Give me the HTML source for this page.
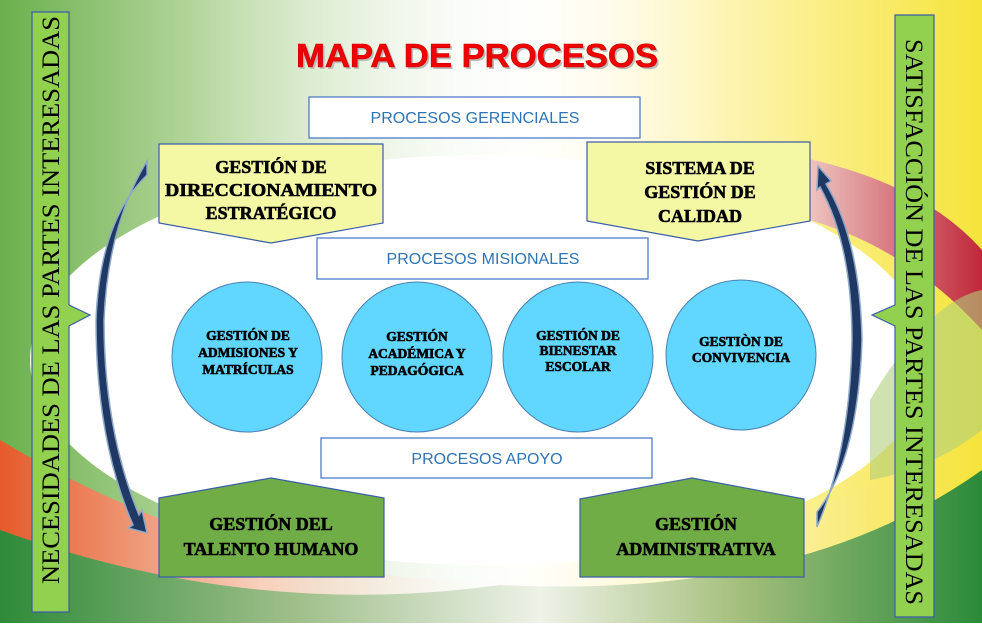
<!DOCTYPE html>
<html><head><meta charset="utf-8"><style>
html,body{margin:0;padding:0}
body{width:982px;height:623px;overflow:hidden;background:#fff}
svg text{font-family:"Liberation Serif",serif}
.b{font-weight:bold;fill:#000;stroke:#000;stroke-width:0.6}
.blue{font-family:"Liberation Sans",sans-serif!important;fill:#2e74b5;font-size:16px}
</style></head><body>
<svg width="982" height="623" viewBox="0 0 982 623" xmlns="http://www.w3.org/2000/svg">
<defs>
<linearGradient id="gl" x1="0" y1="0" x2="1" y2="0">
<stop offset="0" stop-color="#6ab04c"/><stop offset="0.35" stop-color="#b4d69c"/><stop offset="1" stop-color="#fff" stop-opacity="0"/></linearGradient>
<linearGradient id="gr" x1="0" y1="0" x2="1" y2="0">
<stop offset="0" stop-color="#fff" stop-opacity="0"/><stop offset="0.5" stop-color="#fdf4b0"/><stop offset="1" stop-color="#f5e43a"/></linearGradient>
<linearGradient id="gb" x1="0" y1="0" x2="1" y2="0">
<stop offset="0" stop-color="#2e8b3a"/><stop offset="0.3" stop-color="#9fbf8a"/><stop offset="0.55" stop-color="#eef2e8"/><stop offset="0.75" stop-color="#a6c07d"/><stop offset="1" stop-color="#2a8a3a"/></linearGradient>
<linearGradient id="red" x1="0" y1="0" x2="1" y2="0">
<stop offset="0" stop-color="#f2d6cf"/><stop offset="1" stop-color="#c0283a"/></linearGradient>
<linearGradient id="orng" x1="0" y1="0" x2="1" y2="0">
<stop offset="0" stop-color="#e55a2b"/><stop offset="0.5" stop-color="#f8d0bc"/><stop offset="1" stop-color="#fff" stop-opacity="0"/></linearGradient>
<linearGradient id="yel" x1="0" y1="0" x2="1" y2="0">
<stop offset="0" stop-color="#fff" stop-opacity="0"/><stop offset="0.6" stop-color="#fbf0a0"/><stop offset="1" stop-color="#f5e43a"/></linearGradient>
</defs>
<rect width="982" height="623" fill="#fff"/>
<rect x="0" y="0" width="560" height="623" fill="url(#gl)"/>
<rect x="480" y="0" width="502" height="623" fill="url(#gr)"/>
<path d="M0 440 Q250 590 520 580 L520 623 L0 623Z" fill="url(#orng)"/>
<path d="M480 570 Q780 560 982 420 L982 623 L480 623Z" fill="url(#yel)"/>
<path d="M0 530 Q250 620 500 585 Q800 600 982 470 L982 623 L0 623Z" fill="url(#gb)"/>
<path d="M790 155 Q920 180 982 250 L982 330 Q900 240 790 215Z" fill="url(#red)"/>
<ellipse cx="480" cy="360" rx="450" ry="205" fill="#fff"/>
<path d="M870 400 Q930 300 982 290 L982 430 Q930 470 870 480Z" fill="#b0cf7c" opacity="0.6"/>
<!-- side bars -->
<polygon points="32,12 69,12 69,305 90,315 69,326 69,612 32,612" fill="#92d050" stroke="#3a5ea8" stroke-width="1.2"/>
<text transform="translate(59,300) rotate(-90)" text-anchor="middle" font-size="25" fill="#000" textLength="568" lengthAdjust="spacingAndGlyphs">NECESIDADES DE LAS PARTES INTERESADAS</text>
<polygon points="895,15 934,15 934,617 895,617 895,326 872,315 895,305" fill="#92d050" stroke="#3a5ea8" stroke-width="1.2"/>
<text transform="translate(906,322) rotate(90)" text-anchor="middle" font-size="25" fill="#000" textLength="566" lengthAdjust="spacingAndGlyphs">SATISFACCIÓN DE LAS PARTES INTERESADAS</text>
<!-- title -->
<text x="477" y="67" text-anchor="middle" font-weight="bold" font-size="33" fill="#bbb" style="font-family:'Liberation Sans',sans-serif" textLength="362" lengthAdjust="spacingAndGlyphs" transform="translate(2,2)">MAPA DE PROCESOS</text>
<text x="477" y="67" text-anchor="middle" font-weight="bold" font-size="33" fill="#f00000" stroke="#c00" stroke-width="0.6" style="font-family:'Liberation Sans',sans-serif" textLength="362" lengthAdjust="spacingAndGlyphs">MAPA DE PROCESOS</text>
<!-- label boxes -->
<rect x="309" y="97" width="331" height="41" fill="#fff" stroke="#4472c4" stroke-width="1.2"/>
<text class="blue" x="475" y="123" text-anchor="middle">PROCESOS GERENCIALES</text>
<rect x="317" y="238" width="331" height="41" fill="#fff" stroke="#4472c4" stroke-width="1.2"/>
<text class="blue" x="483" y="264" text-anchor="middle">PROCESOS MISIONALES</text>
<rect x="321" y="438" width="331" height="40" fill="#fff" stroke="#4472c4" stroke-width="1.2"/>
<text class="blue" x="487" y="464" text-anchor="middle">PROCESOS APOYO</text>
<!-- yellow pentagons -->
<polygon points="159,144 383,144 383,223 271,243 159,223" fill="#f4f7a4" stroke="#3a5ea8" stroke-width="1.2"/>
<g font-size="18" text-anchor="middle">
<text x="271" y="173" class="b">GESTIÓN DE</text>
<text x="271" y="196" class="b" textLength="212" lengthAdjust="spacingAndGlyphs">DIRECCIONAMIENTO</text>
<text x="271" y="219" class="b">ESTRATÉGICO</text>
</g>
<polygon points="587,142 810,142 810,221 698,241 587,221" fill="#f4f7a4" stroke="#3a5ea8" stroke-width="1.2"/>
<g font-size="18" text-anchor="middle">
<text x="700" y="174" class="b">SISTEMA DE</text>
<text x="700" y="198" class="b">GESTIÓN DE</text>
<text x="700" y="222" class="b">CALIDAD</text>
</g>
<!-- circles -->
<g fill="#61d6ff" stroke="#4a7fb5" stroke-width="1">
<circle cx="247" cy="357" r="75"/><circle cx="417" cy="357" r="75"/><circle cx="578" cy="357" r="75"/><circle cx="741" cy="355" r="75"/>
</g>
<g font-size="13.5" text-anchor="middle">
<text x="248" y="340" class="b">GESTIÓN DE</text><text x="248" y="357" class="b">ADMISIONES Y</text><text x="248" y="374" class="b">MATRÍCULAS</text>
<text x="417" y="341" class="b">GESTIÓN</text><text x="417" y="358" class="b">ACADÉMICA Y</text><text x="417" y="375" class="b">PEDAGÓGICA</text>
<text x="578" y="340" class="b">GESTIÓN DE</text><text x="578" y="355" class="b">BIENESTAR</text><text x="578" y="371" class="b">ESCOLAR</text>
<text x="741" y="346" class="b">GESTIÒN DE</text><text x="741" y="362" class="b">CONVIVENCIA</text>
</g>
<!-- green pentagons -->
<polygon points="159,498 271,478 384,498 384,577 159,577" fill="#70ad47" stroke="#3a5ea8" stroke-width="1.2"/>
<text x="271" y="530" text-anchor="middle" font-size="18" class="b">GESTIÓN DEL</text>
<text x="271" y="555" text-anchor="middle" font-size="18" class="b">TALENTO HUMANO</text>
<polygon points="580,499 692,478 804,499 804,577 580,577" fill="#70ad47" stroke="#3a5ea8" stroke-width="1.2"/>
<text x="696" y="530" text-anchor="middle" font-size="18" class="b">GESTIÓN</text>
<text x="696" y="555" text-anchor="middle" font-size="18" class="b">ADMINISTRATIVA</text>
<!-- curved arrows -->
<path d="M147,161 L147,175 Q100,220 96,320 Q96,440 133,525 L128,528 L147,533 L142,510 L139,515 Q104,430 104,320 Q108,225 147,161Z" fill="#1f3864" stroke="#8ea9c8" stroke-width="1.5"/>
<path d="M817,527 L817,512 Q858,460 862,340 Q860,240 826,184 L831,181 L818,166 L817,190 L820,187 Q852,245 852,340 Q850,450 817,527Z" fill="#1f3864" stroke="#8ea9c8" stroke-width="1.5"/>
</svg>
</body></html>
